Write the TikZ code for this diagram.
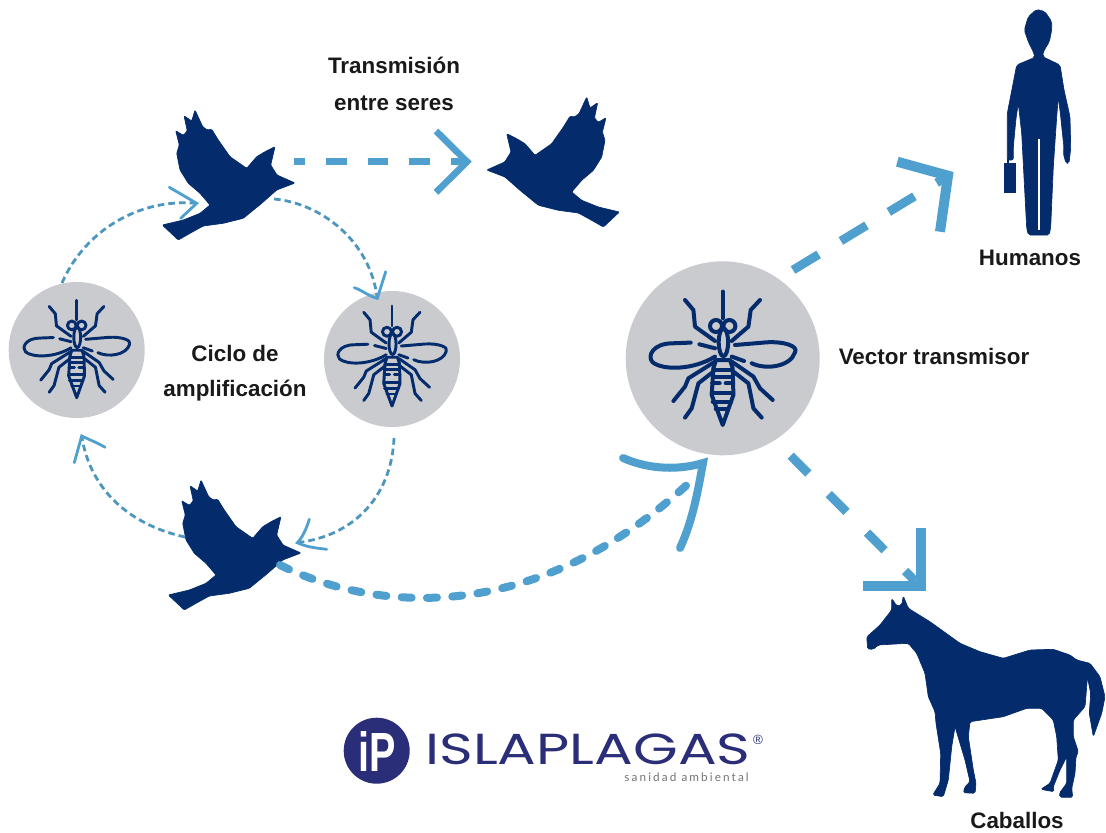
\documentclass[tikz,border=0pt]{standalone}
\usepackage{fontspec}
\usepackage{graphicx}
\usetikzlibrary{calc}
\setmainfont{Liberation Sans}
\newfontfamily\logofont{Poppins}
\newfontfamily\subfont{Lato}[LetterSpace=18]
\definecolor{navy}{HTML}{042C6C}
\definecolor{logonavy}{HTML}{2A2E78}
\definecolor{sky}{HTML}{4F9FCF}
\definecolor{skydash}{HTML}{4D97BE}
\definecolor{disc}{HTML}{C9CBCE}
\newcommand{\birdshape}{
  (295,183) -- (277,175) -- (270.7,165) -- (275,146.7) -- (265,151.7) -- (256.7,156.7) -- (246.7,168.3)
  -- (230,156.7) -- (218.3,140) -- (211.7,129.3) -- (207.3,130) -- (202.7,126.7) -- (195,110) -- (191.7,121) -- (184,115.7)
  -- (187.3,131) -- (183.3,135.3) -- (175.7,130.7) -- (179.3,145) -- (176.7,153.3) -- (180,170) -- (188.3,183.3) -- (200,193.3) -- (210,205)
  -- (200,213.3) -- (183.3,220) -- (162.3,225) -- (178.3,240) -- (190,233.3) -- (203.3,226) -- (223.3,223.3) -- (243.3,218.3) -- (261.7,203.3) -- (276.7,190) -- cycle}
\newcommand{\mosquito}{
  \draw (0,-66.7) -- (0,-40);
  \draw (-6.7,-32.3) circle (6);
  \draw (6.7,-32.3) circle (6);
  \draw (0.7,-16) ellipse (4.7 and 14);
  \draw (-37.7,-58.3) -- (-29.3,-48.3) -- (-27.7,-31.7) -- (-7.7,-17.3);
  \draw (37.3,-58.3) -- (28,-48.3) -- (25.7,-31.7) -- (9,-17.3);
  \draw (-32,-15.7) -- (-50,-15) .. controls (-70,-15) and (-76,-2) .. (-70,4) .. controls (-60,12) and (-30,12) .. (-7.7,-1.7);
  \draw (-23.3,-14) -- (-7.7,-10);
  \draw (12.3,-13.3) -- (44,-16) .. controls (62,-17) and (76,-12) .. (72.3,-6) .. controls (68,8) and (44,12) .. (29,5);
  \draw (9,-1.7) -- (21.3,2.7);
  \draw (-7.7,3.3) -- (-34.3,20) -- (-37.7,28.3) -- (-49.3,42.7);
  \draw (9,3.3) -- (30.7,18.3) -- (37.3,30) -- (50,41.7);
  \draw (-9.3,13.3) -- (-24.3,25) -- (-31,50) -- (-37.7,59.3);
  \draw (10.7,13.3) -- (25.7,25) -- (30.7,50) -- (39,59.3);
  \draw (-6.7,1.7) -- (7.3,1.7) -- (10,10) -- (10.7,36.7) -- (0,66.7) -- (-11,36.7) -- (-9.3,10) -- cycle;
  \draw (-9.5,11.7) -- (9.5,11.7);
  \draw (-10,18.5) -- (10,18.5);
  \draw (-10.5,25) -- (-3,25) (3,25) -- (10.5,25);
  \draw (-11,35) -- (10.5,35);
  \draw (-10,43.3) -- (8.5,43.3);
  \draw (-7,50.7) -- (5,50.7);
}
\tikzset{
  x=0.75pt,y=-0.75pt,
  mosq/.style={draw=navy,line width=#1,line cap=round,line join=round},
  discnode/.style={circle,fill=disc,draw=none,inner sep=0pt,minimum size=#1},
  silhouette/.style={fill=navy,draw=navy,line width=0.5pt,line join=round},
  label/.style={font=\bfseries\fontsize{16.8}{18}\selectfont,text=black!90,inner sep=0pt},
  thinflow/.style={draw=skydash,line width=2.1pt,dash pattern=on 5pt off 3pt},
  thinhead/.style={draw=sky,line width=2.1pt,line cap=round,line join=miter},
  bigflow/.style={draw=sky,line width=6.6pt},
  bighead/.style={draw=sky,line width=7.5pt,line join=miter,miter limit=10},
}
\begin{document}
\begin{tikzpicture}
\useasboundingbox (0,0) rectangle (1106,832);
% discs
\node[discnode=136*0.75pt] (mosqL) at (76.7,350) {};
\node[discnode=136*0.75pt] (mosqM) at (392,359) {};
\node[discnode=194*0.75pt] (mosqB) at (722.7,358.3) {};
\begin{scope}[shift={(76.7,349)},scale=.73,mosq=2.2pt]\mosquito\end{scope}
\begin{scope}[shift={(392,356)},scale=.75,mosq=2.2pt]\mosquito\end{scope}
\begin{scope}[shift={(722.7,358.3)},mosq=3pt]\mosquito\end{scope}
% birds
\filldraw[silhouette,rounded corners=0.8pt] \birdshape;
\begin{scope}[shift={(781.7,-13)},xscale=-1]\filldraw[silhouette,rounded corners=0.8pt] \birdshape;\end{scope}
\begin{scope}[shift={(6,370)}]\filldraw[silhouette,rounded corners=0.8pt] \birdshape;\end{scope}
% person
\filldraw[silhouette,rounded corners=1.5pt] (1036.7,9.3) -- (1045,11.7) -- (1051.7,21.7) -- (1051.7,30) -- (1049.3,41.7) -- (1043.3,51.7) -- (1042.7,56.7) -- (1060,65) -- (1064,90) -- (1070,116.7) -- (1070.7,148.3) -- (1069,163.3) -- (1066,163.3) -- (1063.3,153.3) -- (1064,148.3) -- (1060.7,116.7) -- (1058.3,96.7) -- (1056.7,116.7) -- (1053.3,166.7) -- (1050.7,226.7) -- (1049.3,235) -- (1028.3,235) -- (1026.7,228.3) -- (1021.7,133.3) -- (1018.3,103.3) -- (1016,118.3) -- (1013.3,146.7) -- (1013.3,160) -- (1007.3,160) -- (1007.3,113.3) -- (1016.7,65) -- (1035,57.3) -- (1033.3,51.7) -- (1028.3,41.7) -- (1024.3,30) -- (1028.3,16.7) -- cycle;
\fill[navy] (1004.3,163.3) rectangle (1015.7,193.3);
\draw[navy,line width=1.2pt] (1008,163.5) -- (1008,159);
\draw[white,line width=1.2pt] (1039,139) -- (1039,230);
% horse
\filldraw[silhouette,rounded corners=1.2pt] (891.7,598.3) -- (896.7,606) -- (901.7,605) -- (903.3,596) -- (908.3,608.3) -- (930,621.7) -- (960,643.3) -- (980,651.7) -- (1003.3,658.3) -- (1030,650) -- (1053.3,649.3) -- (1070,655) -- (1076.7,660) -- (1090,663.3) -- (1100,676.7) -- (1105,696.7) -- (1101.7,713.3) -- (1093.3,736.7) -- (1089.3,713.3) -- (1090.7,693.3) -- (1087.3,676.7) -- (1086.7,686.7) -- (1085,706.7) -- (1073.3,720) -- (1073.3,736.7) -- (1078.3,751.7) -- (1076,756.7) -- (1075,773.3) -- (1071.7,788.3) -- (1072.7,797.3) -- (1060,797.3) -- (1059.3,793.3) -- (1066.7,783.3) -- (1066.7,756.7) -- (1060,770) -- (1053.3,786.7) -- (1054,791.7) -- (1040.7,789.3) -- (1050,783.3) -- (1058.3,760) -- (1056.7,736.7) -- (1053.3,720) -- (1041.7,708.3) -- (1026.7,708.3) -- (1003.3,716.7) -- (970,721.7) -- (968.3,736.7) -- (973.3,770) -- (976,783.3) -- (975,793.3) -- (963.3,792.7) -- (965,786.7) -- (970,781.7) -- (965,760) -- (955,726.7) -- (951.7,746.7) -- (948.3,780) -- (943.3,796.7) -- (932.7,795) -- (940,783.3) -- (940.7,753.3) -- (936,723.3) -- (935,711.7) -- (928.3,696.7) -- (925,673.3) -- (916.7,653.3) -- (908.3,643.3) -- (895,644) -- (878.3,645) -- (873.3,649.3) -- (867.7,649) -- (866.7,637) -- (880,625) -- (891.7,610) -- cycle;
% named ends of the connectors
\coordinate (b1out) at (294,161.7);
\coordinate (b2in) at (467,161.7);
\coordinate (lTop) at (62,283);
\coordinate (b1in) at (196.7,203.3);
\coordinate (b1low) at (274,199);
\coordinate (mTop) at (377.3,298.3);
\coordinate (mBot) at (394,438);
\coordinate (b3in) at (297.3,542.7);
\coordinate (b3left) at (185,537);
\coordinate (lBot) at (81.7,436);
\coordinate (b3out) at (280,565);
\coordinate (vecIn) at (703,463);
\coordinate (vecHum) at (793,270);
\coordinate (humIn) at (948,175.7);
\coordinate (humEnd) at (943,179);
\coordinate (vecHor) at (790.7,455.7);
\coordinate (horEnd) at (915,581);
\coordinate (horIn) at (920.7,586);
% thin connectors
\draw[thinflow] (lTop) .. controls (85,230) and (140,198) .. (b1in);
\draw[thinhead] (169.3,187.3) -- (b1in) -- (180.7,218.3);
\draw[thinflow] (b1low) .. controls (320,203) and (370,240) .. (mTop);
\draw[thinhead] (385.7,271.7) -- (mTop) .. controls (368,296) and (362,290) .. (354.3,287.7);
\draw[thinflow] (mBot) .. controls (392,490) and (360,535) .. (b3in);
\draw[thinhead] (309.3,519.3) .. controls (306,530) and (302,538) .. (b3in) .. controls (306,547) and (316,548) .. (326.7,549.3);
\draw[thinflow] (b3left) .. controls (130,525) and (90,490) .. (lBot);
\draw[thinhead] (74.3,462.7) -- (lBot) .. controls (90,440) and (98,443) .. (105,447.3);
% thick connectors
\draw[draw=sky,line width=5.5pt,dash pattern=on 15.4pt off 15.7pt,dash phase=7pt] (b1out) -- (b2in);
\draw[draw=sky,line width=5pt,line join=miter] (436,131) -- (b2in) -- (436,192.4);
\draw[bigflow,dash pattern=on 22.5pt off 19.5pt] (vecHum) -- (humEnd);
\draw[bighead] (897.3,161.7) -- (humIn) -- (940,231.7);
\draw[bigflow,dash pattern=on 18.8pt off 21.8pt] (vecHor) -- (horEnd);
\draw[bighead] (920.7,527.7) -- (horIn) -- (862.7,586);
\draw[draw=sky,line width=6pt,line cap=round,dash pattern=on 7.5pt off 11.5pt] (b3out) .. controls (370,610) and (530,630) .. (690,482);
\draw[draw=sky,line width=6pt,line cap=round] (623,458) .. controls (650,470) and (680,470) .. (vecIn) .. controls (698,490) and (693,520) .. (680,548);
% labels
\node[label] (t1) at (394,65) {Transmisión};
\node[label] (t2) at (394,103) {entre seres};
\node[label] (c1) at (235,353) {Ciclo de};
\node[label] (c2) at (235,391) {amplificación};
\node[label] (v) at (934,356) {Vector transmisor};
\node[label] (h) at (1030,258) {Humanos};
\node[label] (ca) at (1017,820) {Caballos};
% logo
\node[circle,fill=logonavy,minimum size=66*0.75pt,inner sep=0pt] (logoc) at (376.7,750.7) {};
\node[inner sep=0pt,text=white] (logoip) at (377,751) {\resizebox{28pt}{30pt}{\bfseries iP}};
\node[inner sep=0pt,text=logonavy,anchor=west] (logot) at (425,749.5) {\resizebox{244pt}{23pt}{\logofont ISLAPLAGAS}};
\node[inner sep=0pt,text=logonavy,font=\fontsize{10}{10}\selectfont] (logor) at (758,740) {®};
\node[inner sep=0pt,text=black!55,anchor=east,font=\subfont\fontsize{8.8}{9}\selectfont] (logos) at (749,777) {sanidad ambiental};
\end{tikzpicture}
\end{document}
